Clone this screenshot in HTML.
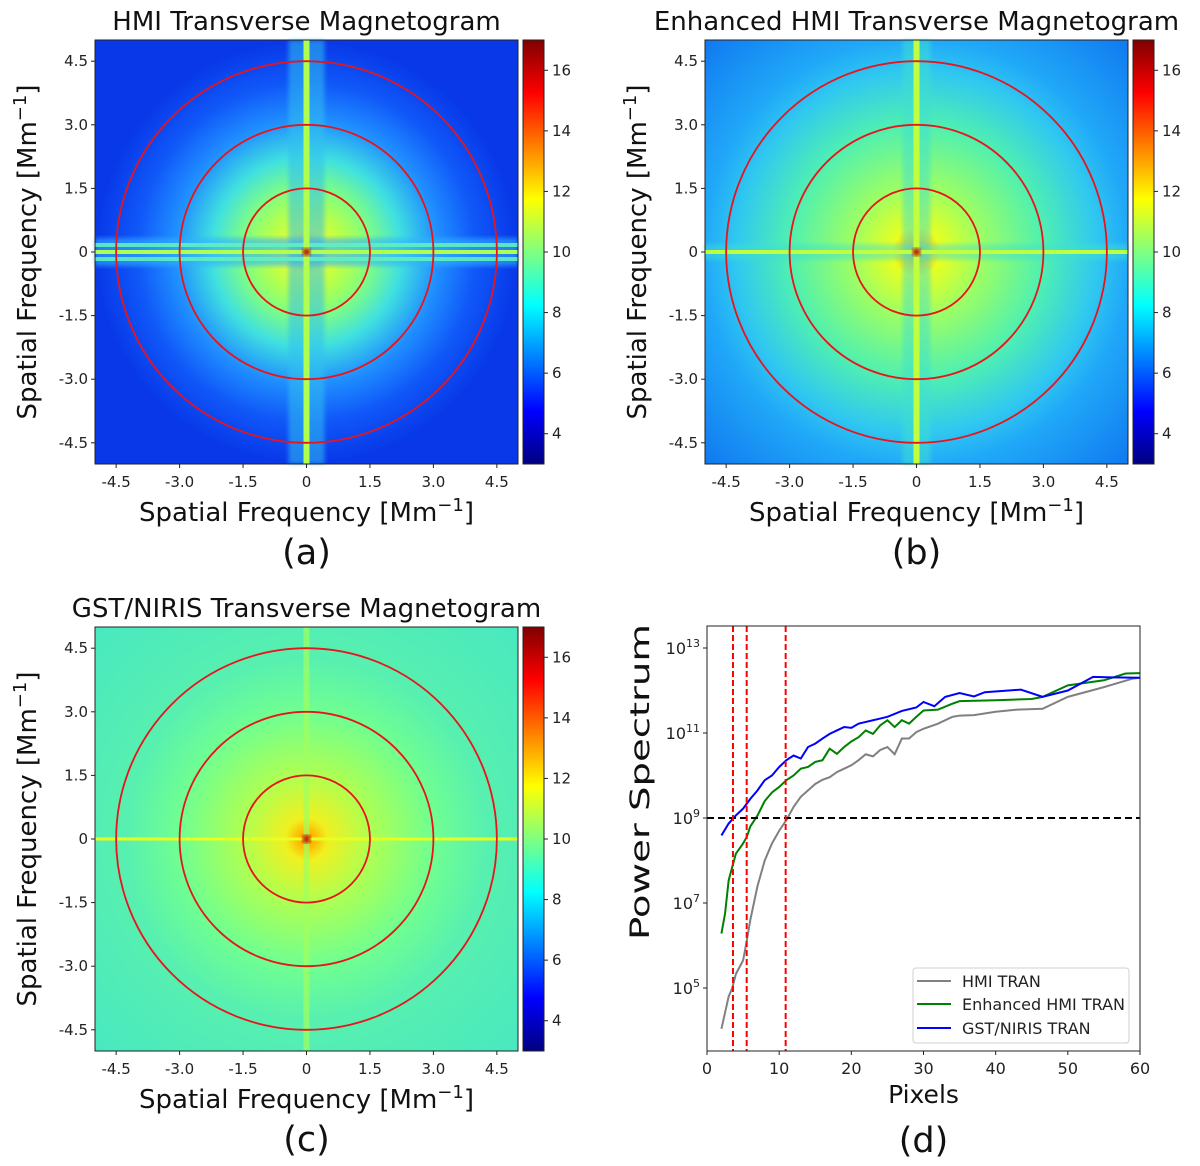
<!DOCTYPE html>
<html><head><meta charset="utf-8"><style>
html,body{margin:0;padding:0;background:#fff;}
svg{display:block;font-family:"DejaVu Sans","Liberation Sans",sans-serif;}
</style></head><body>
<svg id="fig" width="1200" height="1166" viewBox="0 0 1200 1166" xmlns="http://www.w3.org/2000/svg">
<defs>
<linearGradient id="jet" x1="0" y1="1" x2="0" y2="0">
<stop offset="0" stop-color="#000080"/><stop offset="0.125" stop-color="#0000ff"/>
<stop offset="0.375" stop-color="#00ffff"/><stop offset="0.5" stop-color="#80ff80"/>
<stop offset="0.625" stop-color="#ffff00"/><stop offset="0.875" stop-color="#ff0000"/>
<stop offset="1" stop-color="#800000"/></linearGradient>
<radialGradient id="gA" cx="0.5" cy="0.5" r="0.5">
<stop offset="0" stop-color="#ff3000"/><stop offset="0.03" stop-color="#ffd000"/>
<stop offset="0.1" stop-color="#e0ff30"/><stop offset="0.2" stop-color="#b0ff50"/>
<stop offset="0.3" stop-color="#80ff80"/><stop offset="0.45" stop-color="#40e0e0"/>
<stop offset="0.62" stop-color="#2090ff"/><stop offset="0.8" stop-color="#1058f8"/>
<stop offset="1" stop-color="#0838e8"/></radialGradient>
<radialGradient id="gB" cx="0.5" cy="0.5" r="0.71">
<stop offset="0" stop-color="#ff2000"/><stop offset="0.02" stop-color="#ffb000"/>
<stop offset="0.08" stop-color="#e8ff20"/><stop offset="0.21" stop-color="#a0ff60"/>
<stop offset="0.42" stop-color="#50f0b0"/><stop offset="0.6" stop-color="#30c8f0"/>
<stop offset="0.71" stop-color="#20a8f8"/><stop offset="1" stop-color="#1078f0"/></radialGradient>
<radialGradient id="gC" cx="0.5" cy="0.5" r="0.71">
<stop offset="0" stop-color="#ff2000"/><stop offset="0.02" stop-color="#ffb000"/>
<stop offset="0.07" stop-color="#f0f020"/><stop offset="0.21" stop-color="#b0ff50"/>
<stop offset="0.42" stop-color="#70ff90"/><stop offset="0.6" stop-color="#58f0b0"/>
<stop offset="1" stop-color="#48e8c0"/></radialGradient>
<filter id="blur2"><feGaussianBlur stdDeviation="2"/></filter>
</defs>
</svg>
<script>
// ---- Panel (d) data ----
const pixels = [2,3,3.5,4,5,5.5,6,7,8,9,10,11,12,13,14,15,16,17,18,19,20,21,22,23,24,25,26,27,28,29,30,32,34,35,37,40,43,46.5,50,55,59,60];
const hmiLog = [4.04,4.8,5.0,5.33,5.65,6.1,6.6,7.4,8.0,8.4,8.7,8.95,9.26,9.5,9.65,9.8,9.9,9.96,10.08,10.16,10.24,10.36,10.5,10.45,10.6,10.67,10.5,10.87,10.87,11.02,11.1,11.22,11.38,11.41,11.42,11.5,11.55,11.57,11.85,12.08,12.28,12.3];
const enhPixels = [2,2.5,3,3.5,4,5,5.5,6,7,8,9,10,11,12,13,14,15,16,17,18,19,20,21,22,23,24,25,26,27,28,29,30,32,34,35,40,45,46.5,50,55,58,60];
const enhLog = [6.28,6.75,7.53,7.85,8.16,8.4,8.55,8.8,9.06,9.4,9.6,9.73,9.89,10.0,10.16,10.2,10.32,10.36,10.63,10.51,10.67,10.8,10.9,11.06,10.98,11.18,11.3,11.14,11.3,11.22,11.38,11.53,11.55,11.69,11.75,11.77,11.8,11.85,12.12,12.24,12.4,12.41];
const gstPixels = [2,3,4,5,6,7,8,9,10,11,12,13,14,15,16,17,18,19,20,21,22,23,24,25,27,29,30,31.5,33,35,37,38.5,43.5,46.5,50,53.5,56,60];
const gstLog = [8.59,8.87,9.06,9.22,9.45,9.65,9.89,10.0,10.2,10.36,10.47,10.4,10.67,10.75,10.87,10.98,11.06,11.14,11.12,11.22,11.26,11.3,11.34,11.38,11.52,11.6,11.73,11.63,11.85,11.94,11.86,11.96,12.02,11.85,12.0,12.32,12.31,12.3];
const vLines = [3.6,5.5,10.9];
const hLine = 9;
const xTicksD = [0,10,20,30,40,50,60];
const yTickExp = [5,7,9,11,13];
// ---- Heatmap axes ----
const freqTicks = [-4.5,-3.0,-1.5,0,1.5,3.0,4.5];
const freqTickLabels = ["-4.5","-3.0","-1.5","0","1.5","3.0","4.5"];
const ringRadii = [1.5,3.0,4.5];
const cbarTicks = [4,6,8,10,12,14,16];

const NS="http://www.w3.org/2000/svg";
const svg=document.getElementById('fig');
function mk(tag,attrs,parent){const e=document.createElementNS(NS,tag);for(const k in attrs)e.setAttribute(k,attrs[k]);(parent||svg).appendChild(e);return e;}
function txt(s,attrs,parent){const e=mk('text',attrs,parent);e.textContent=s;return e;}

function heatPanel(id,ox,oy,title,grad,style,letter){
  const g=mk('g',{});
  
  
  const L=95+ox,R=518+ox,T=40+oy,B=464+oy;
  const cx=(L+R)/2, cy=(T+B)/2;
  const sx=v=>cx+v*(R-L)/10, sy=v=>cy-v*(B-T)/10;
  const img=mk('g',{},g);
  
  
  mk('rect',{x:L,y:T,width:R-L,height:B-T,fill:'url(#'+grad+')'},img);
  if(style==='a'){
    mk('rect',{x:cx-18,y:T,width:36,height:B-T,fill:'#30c0f0',opacity:0.55,filter:'url(#blur2)'},img);
    mk('rect',{x:L,y:cy-14,width:R-L,height:28,fill:'#30b0ff',opacity:0.6,filter:'url(#blur2)'},img);
    mk('rect',{x:L,y:cy+5,width:R-L,height:4,fill:'#60f0c0',opacity:0.9},img);
    mk('rect',{x:L,y:cy-9,width:R-L,height:4,fill:'#60f0c0',opacity:0.9},img);
    mk('rect',{x:cx-3,y:T,width:6,height:B-T,fill:'#b0ff50'},img);
    mk('rect',{x:L,y:cy-2,width:R-L,height:4,fill:'#b0ff50'},img);
  } else if(style==='b'){
    mk('rect',{x:cx-14,y:T,width:28,height:B-T,fill:'#40e0d0',opacity:0.5,filter:'url(#blur2)'},img);
    mk('rect',{x:L,y:cy-8,width:R-L,height:16,fill:'#40e0d0',opacity:0.45,filter:'url(#blur2)'},img);
    mk('rect',{x:cx-3,y:T,width:6,height:B-T,fill:'#c0ff40'},img);
    mk('rect',{x:L,y:cy-2,width:R-L,height:4,fill:'#c0ff40'},img);
  } else {
    mk('rect',{x:cx-3,y:T,width:6,height:B-T,fill:'#a0ff60',opacity:0.7},img);
    mk('rect',{x:L,y:cy-1.5,width:R-L,height:3,fill:'#e8ff20'},img);
  }
  mk('circle',{cx:cx,cy:cy,r:4,fill:'#c00000',filter:'url(#blur2)'},img);
  ringRadii.forEach((r,i)=>{
    const c=mk('ellipse',{cx:cx,cy:cy,rx:r*(R-L)/10,ry:r*(B-T)/10,fill:'none',stroke:'#e8141c','stroke-width':1.8},g);
    
    
  });
  mk('rect',{x:L,y:T,width:R-L,height:B-T,fill:'none',stroke:'#222','stroke-width':1},g);
  freqTicks.forEach((v,i)=>{
    mk('line',{x1:sx(v),y1:B,x2:sx(v),y2:B+4,stroke:'#222'},g);
    txt(freqTickLabels[i],{x:sx(v),y:B+23,'text-anchor':'middle','font-size':15,fill:'#222'},g);
    mk('line',{x1:L,y1:sy(v),x2:L-4,y2:sy(v),stroke:'#222'},g);
    txt(freqTickLabels[i],{x:L-7,y:sy(v)+5,'text-anchor':'end','font-size':15,fill:'#222'},g);
  });
  const t=txt(title,{x:cx,y:T-10,'text-anchor':'middle','font-size':26,fill:'#111'},g);
  
  
  const xl=mk('text',{x:cx,y:B+57,'text-anchor':'middle','font-size':26,fill:'#111'},g);
  xl.innerHTML='Spatial Frequency [Mm<tspan dy="-10" font-size="18">−1</tspan><tspan dy="10">]</tspan>';
  
  
  const yl=mk('text',{x:0,y:0,'text-anchor':'middle','font-size':26,fill:'#111',transform:'translate('+(36+ox)+','+cy+') rotate(-90)'},g);
  yl.innerHTML='Spatial Frequency [Mm<tspan dy="-10" font-size="18">−1</tspan><tspan dy="10">]</tspan>';
  
  
  const cb=mk('g',{},g);
  
  
  const CL=523+ox,CW=21;
  mk('rect',{x:CL,y:T,width:CW,height:B-T,fill:'url(#jet)',stroke:'#222','stroke-width':1},cb);
  const cyv=v=>B-(v-3)/14*(B-T);
  cbarTicks.forEach(v=>{
    mk('line',{x1:CL+CW,y1:cyv(v),x2:CL+CW+4,y2:cyv(v),stroke:'#222'},cb);
    txt(String(v),{x:CL+CW+8,y:cyv(v)+5,'font-size':15,fill:'#222'},cb);
  });
  const lt=txt(letter,{x:cx,y:B+100,'text-anchor':'middle','font-size':35,fill:'#111'},g);
  
  
}
heatPanel('hmi',0,0,'HMI Transverse Magnetogram','gA','a','(a)');
heatPanel('enhanced-hmi',610,0,'Enhanced HMI Transverse Magnetogram','gB','b','(b)');
heatPanel('gst-niris',0,587,'GST/NIRIS Transverse Magnetogram','gC','c','(c)');

// ---- Panel (d) ----
(function(){
  const L=707,R=1140,T=626,B=1051;
  const x=v=>L+v/60*(R-L);
  const y=e=>818-(e-9)*42.5;
  const g=mk('g',{});
  
  
  mk('rect',{x:L,y:T,width:R-L,height:B-T,fill:'#fff'},g);
  const clip=mk('clipPath',{id:'clipD'},g); mk('rect',{x:L,y:T,width:R-L,height:B-T},clip);
  function series(px,py,color,name){
    const p=mk('polyline',{points:px.map((v,i)=>x(v)+','+y(py[i])).join(' '),fill:'none',stroke:color,'stroke-width':2,'clip-path':'url(#clipD)'},g);
    
    
  }
  series(pixels,hmiLog,'#808080','hmi-tran-line');
  series(enhPixels,enhLog,'#008000','enhanced-hmi-tran-line');
  series(gstPixels,gstLog,'#0000ff','gst-niris-tran-line');
  const h=mk('line',{x1:L,y1:y(hLine),x2:R,y2:y(hLine),stroke:'#000','stroke-width':2,'stroke-dasharray':'7,4'},g);
  
  
  vLines.forEach(v=>{
    const l=mk('line',{x1:x(v),y1:T,x2:x(v),y2:B,stroke:'#ff0000','stroke-width':2,'stroke-dasharray':'6,3'},g);
    
    
  });
  mk('rect',{x:L,y:T,width:R-L,height:B-T,fill:'none',stroke:'#222','stroke-width':1},g);
  xTicksD.forEach(v=>{
    mk('line',{x1:x(v),y1:B,x2:x(v),y2:B+4,stroke:'#222'},g);
    txt(String(v),{x:x(v),y:B+23,'text-anchor':'middle','font-size':16,fill:'#222'},g);
  });
  yTickExp.forEach(e=>{
    mk('line',{x1:L,y1:y(e),x2:L-4,y2:y(e),stroke:'#222'},g);
    const t=mk('text',{x:L-7,y:y(e)+6,'text-anchor':'end','font-size':16,fill:'#222'},g);
    t.innerHTML='10<tspan dy="-7" font-size="11">'+e+'</tspan>';
  });
  const xl=txt('Pixels',{x:(L+R)/2,y:1103,'text-anchor':'middle','font-size':25,fill:'#111'},g);
  
  
  const yl=txt('Power Spectrum',{x:0,y:0,'text-anchor':'middle','font-size':27,textLength:316,lengthAdjust:'spacingAndGlyphs',fill:'#111',transform:'translate(649,782) rotate(-90)'},g);
  
  
  const lt=txt('(d)',{x:(L+R)/2,y:1152,'text-anchor':'middle','font-size':35,fill:'#111'},g);
  
  
  const lg=mk('g',{},g);
  
  
  mk('rect',{x:913,y:968,width:216,height:75,rx:3,fill:'#fff',stroke:'#d0d0d0'},lg);
  [['HMI TRAN','#808080',981],['Enhanced HMI TRAN','#008000',1004],['GST/NIRIS TRAN','#0000ff',1028]].forEach(r=>{
    const e=mk('g',{},lg);
    
    
    mk('line',{x1:917,y1:r[2],x2:951,y2:r[2],stroke:r[1],'stroke-width':2},e);
    txt(r[0],{x:962,y:r[2]+6,'font-size':16,fill:'#222'},e);
  });
})();
</script>
</body></html>
